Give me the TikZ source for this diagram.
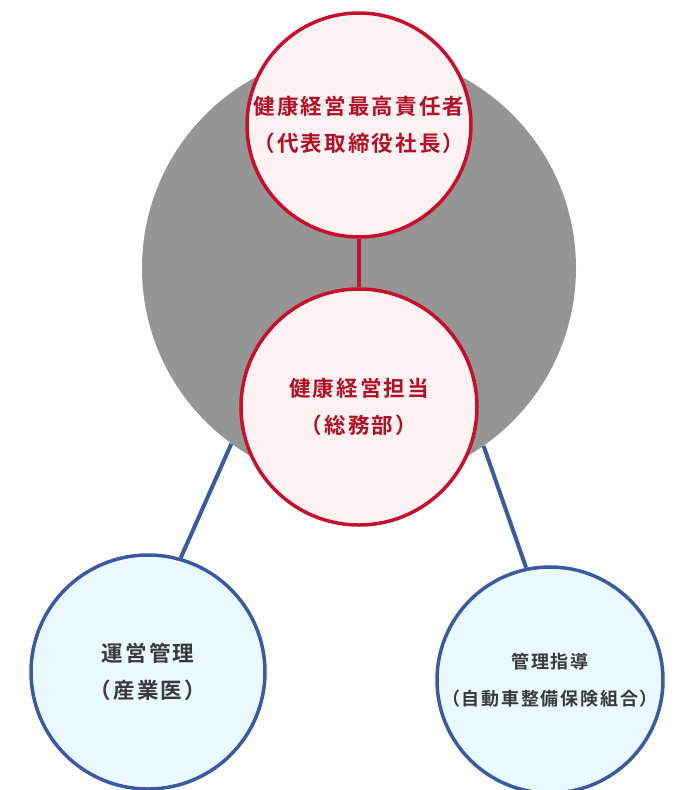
\documentclass[tikz,border=0pt]{standalone}
\usepackage{fontspec}
\newfontfamily\cjk[LetterSpace=10]{Noto Sans CJK JP Bold}
\definecolor{redc}{HTML}{C8102E}
\definecolor{pinkf}{HTML}{FDF1F2}
\definecolor{bluec}{HTML}{3A5BA0}
\definecolor{bluef}{HTML}{E9F9FD}
\definecolor{grayf}{HTML}{959595}
\definecolor{redt}{HTML}{B01028}
\definecolor{txt}{HTML}{3A3A3A}
\begin{document}
\begin{tikzpicture}[x=1pt,y=-1pt,
  redcirc/.style={circle,draw=redc,fill=pinkf,line width=3.5pt,inner sep=0pt,align=center,font=\cjk\fontsize{21.5}{37}\selectfont,text=redt},
  bluecirc/.style={circle,draw=bluec,fill=bluef,line width=3.5pt,inner sep=0pt,align=center,font=\cjk\fontsize{21.5}{37}\selectfont,text=txt},
  redline/.style={draw=redc,line width=3.5pt},
  blueline/.style={draw=bluec,line width=4pt}]
\useasboundingbox (0,0) rectangle (686,790);
\node[circle,fill=grayf,minimum size=434pt,inner sep=0pt] (gray) at (359,268) {};
\node[bluecirc,minimum size=234pt] (l) at (148,672) {運営管理\\（産業医）};
\node[bluecirc,minimum size=226pt,font=\cjk\fontsize{18}{37}\selectfont] (r) at (550,680) {管理指導\\（自動車整備保険組合）};
\draw[blueline] (gray.234.6) -- (l.74);
\draw[blueline] (gray.305.6) -- (r.102);
\node[redcirc,minimum size=224pt] (t) at (359,125) {健康経営最高責任者\\（代表取締役社長）};
\node[redcirc,minimum size=236pt] (m) at (359,407) {健康経営担当\\（総務部）};
\draw[redline] (t) -- (m);
\end{tikzpicture}
\end{document}
